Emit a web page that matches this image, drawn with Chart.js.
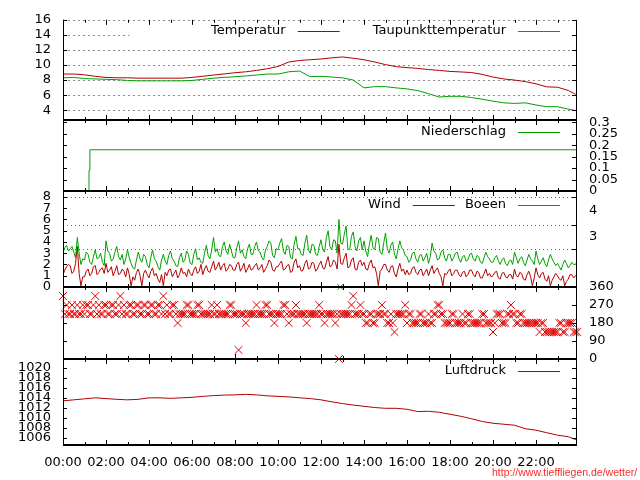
<!DOCTYPE html>
<html><head><meta charset="utf-8">
<script src="https://cdn.jsdelivr.net/npm/chart.js@4"></script>
<style>
html,body{margin:0;padding:0;background:#fff;}
#wrap{position:relative;width:640px;height:480px;overflow:hidden;background:#fff;}
#wrap canvas{position:absolute;left:0;top:0;}
#url{position:absolute;left:492px;top:465px;font:10.5px "Liberation Sans",Arial,sans-serif;color:#ff2a2a;line-height:14px;white-space:nowrap;}
</style></head><body>
<div id="wrap">
<canvas id="c1" width="640" height="480"></canvas>
<canvas id="c2" width="640" height="480"></canvas>
<canvas id="c3" width="640" height="480"></canvas>
<canvas id="c4" width="640" height="480"></canvas>
<canvas id="c5" width="640" height="480"></canvas>
<div id="url">http://www.tieffliegen.de/wetter/</div>
</div>
<script>
// ---------- data ----------
const hourLabelTicks = [0,2,4,6,8,10,12,14,16,18,20,22];
const hourMarks = [0,1,2,3,4,5,6,7,8,9,10,11,12,13,14,15,16,17,18,19,20,21,22,23];
const xMax = 23.86;

const slowHours = [0,0.5,1,1.5,2,2.5,3,3.5,4,4.5,5,5.5,6,6.5,7,7.5,8,8.5,9,9.5,10,10.5,11,11.5,
  12,12.5,13,13.5,14,14.5,15,15.5,16,16.5,17,17.5,18,18.5,19,19.5,20,20.5,21,21.5,22,22.5,23,23.5,23.85];
const tempValues = [8.8,8.8,8.7,8.5,8.35,8.3,8.3,8.25,8.25,8.25,8.25,8.25,
  8.35,8.5,8.67,8.82,8.97,9.1,9.28,9.5,9.8,10.4,10.6,10.7,
  10.8,10.95,11.07,10.9,10.7,10.4,10.05,9.78,9.65,9.55,9.4,9.28,
  9.15,9.08,9.0,8.75,8.4,8.15,8.0,7.8,7.5,7.1,7.05,6.62,6.1];
const dewValues = [8.3,8.35,8.2,8.15,8.1,8.05,7.95,7.9,7.9,7.9,7.9,7.9,
  7.95,8.1,8.25,8.35,8.45,8.55,8.67,8.8,8.8,9.1,9.2,8.45,
  8.5,8.4,8.3,8.0,6.96,7.13,7.13,6.96,6.83,6.6,6.2,5.75,
  5.85,5.85,5.68,5.46,5.2,4.98,4.9,4.98,4.69,4.47,4.47,4.14,3.96];
const pressValues = [1013.4,1013.6,1013.8,1014.0,1013.85,1013.7,1013.6,1013.7,1014.0,1014.0,1013.9,1014.0,
  1014.1,1014.3,1014.45,1014.55,1014.6,1014.7,1014.6,1014.4,1014.3,1014.2,1014.0,1013.85,
  1013.6,1013.2,1012.85,1012.55,1012.3,1012.05,1011.9,1011.9,1011.7,1011.25,1011.3,1011.1,
  1010.7,1010.3,1009.8,1009.25,1008.9,1008.7,1008.5,1007.8,1007.5,1007.0,1006.5,1006.2,1005.6];

const precipHours = [0,1.21,1.25,23.86];
const precipValues = [0,0.09,0.18,0.18];

// 5-minute samples, one row per hour
const windStepMin = 5;
const windValues = [
  1.1,1.5,1.8,2.0,1.9,1.2,1.4,2.1,3.6,1.2,0.1,0.9,
  0.9,1.4,1.6,1.0,1.2,1.8,1.9,1.1,1.3,1.6,1.7,1.2,
  2.1,1.3,1.5,1.8,1.0,1.4,1.9,1.1,1.2,1.6,1.4,0.9,
  1.7,1.1,0.1,0.9,0.6,1.3,1.6,1.0,0.1,1.2,1.5,1.1,
  0.8,1.4,1.7,1.0,1.2,0.7,0.4,1.1,0.1,1.3,1.0,1.5,
  1.6,0.9,1.2,1.5,0.8,1.1,1.7,1.2,1.3,0.9,1.6,1.2,
  1.0,1.5,1.8,1.2,1.4,2.0,1.1,1.6,1.9,1.4,1.3,1.8,
  2.3,1.5,1.8,2.2,1.5,1.9,2.1,1.4,1.6,2.0,1.9,1.5,
  1.5,2.0,2.2,1.4,1.7,2.1,1.3,1.6,2.0,1.5,1.6,1.9,
  2.1,1.5,1.7,2.0,1.3,1.6,1.9,2.4,2.2,1.5,1.4,1.8,
  1.8,2.1,2.3,1.5,1.6,1.9,2.0,1.3,1.4,2.2,2.5,1.7,
  1.9,1.4,1.5,2.1,2.4,1.6,1.7,2.2,2.1,1.4,1.6,2.0,
  2.3,1.7,1.6,2.2,2.7,1.8,1.9,2.4,2.2,1.6,3.8,2.1,
  2.0,2.6,3.0,1.7,1.8,2.4,2.6,1.6,1.5,2.2,2.4,1.9,
  2.2,1.6,1.5,2.1,2.4,1.7,1.8,1.2,0.1,1.4,1.6,2.0,
  2.0,1.5,1.3,1.8,1.9,1.2,0.9,1.6,2.1,1.4,1.6,1.1,
  1.5,1.1,1.2,1.7,1.8,1.3,1.1,1.5,1.6,1.0,1.3,1.6,
  1.0,1.5,1.9,1.2,1.5,1.7,1.2,0.9,0.1,1.2,1.1,1.4,
  1.6,1.0,1.2,1.5,1.5,1.1,0.9,1.3,1.4,0.9,1.1,1.5,
  1.5,1.1,0.9,1.4,1.3,0.8,0.8,1.2,1.6,1.0,1.2,0.9,
  1.0,1.3,1.4,0.8,0.7,1.2,1.3,0.9,0.8,1.1,1.1,0.7,
  1.6,1.0,0.9,1.3,1.2,0.7,0.6,1.1,1.4,0.9,0.1,0.8,
  1.7,1.1,0.8,1.2,1.3,0.7,0.5,1.0,0.1,0.6,0.9,1.2,
  1.0,0.7,0.6,1.0,0.1,0.5,0.7,1.1,1.1,0.8,1.0,1.1];
const gustValues = [
  3.0,3.5,3.7,3.2,3.4,3.6,3.1,2.6,4.4,3.0,2.0,2.5,
  2.4,3.1,2.9,2.2,2.0,2.7,3.3,2.5,2.6,3.0,2.2,1.9,
  4.1,3.2,3.0,2.3,2.5,3.1,3.6,2.7,2.4,2.9,2.0,2.5,
  3.3,2.6,2.1,1.7,1.6,2.4,3.1,2.5,2.2,2.9,2.7,2.0,
  1.7,2.6,3.3,2.5,2.3,1.8,1.5,2.4,2.9,2.3,2.0,2.8,
  3.2,2.5,2.3,1.9,1.8,2.6,3.0,2.2,2.4,3.2,2.9,2.1,
  2.0,2.9,3.4,2.4,2.6,2.2,2.1,3.0,3.7,2.8,2.5,3.3,
  4.4,3.1,3.4,2.8,2.7,3.6,4.0,3.2,2.9,3.8,3.2,2.6,
  2.6,3.5,4.1,3.0,3.3,2.7,2.5,3.4,3.8,2.9,2.9,3.6,
  4.0,3.2,3.1,2.6,2.4,3.3,3.6,4.1,3.9,2.8,2.6,3.4,
  3.3,3.9,4.3,3.2,2.9,3.7,3.6,2.6,2.5,3.8,4.5,3.4,
  3.4,2.9,2.8,3.9,4.6,3.3,3.0,3.8,3.7,2.9,2.8,3.6,
  4.2,3.3,3.1,4.4,5.0,3.6,3.3,4.2,4.1,3.0,6.0,3.9,
  3.8,4.7,5.4,3.4,3.3,4.5,4.9,3.6,3.2,4.1,4.4,3.3,
  4.1,3.2,2.7,3.8,4.6,3.5,3.3,4.4,4.3,3.1,2.9,3.9,
  4.8,3.4,3.0,3.7,4.0,2.9,2.5,3.4,4.1,3.5,3.3,2.8,
  2.7,2.2,2.4,3.0,3.1,2.5,2.2,2.8,2.9,2.3,2.6,3.0,
  2.1,2.7,3.9,3.2,3.0,2.4,2.5,3.1,3.3,2.6,2.3,2.9,
  2.9,2.3,2.6,3.0,3.1,2.5,2.2,2.7,2.8,2.3,2.4,2.9,
  3.0,2.5,2.3,2.8,2.7,2.2,2.1,2.6,3.1,2.7,2.5,2.2,
  2.2,2.6,2.8,2.3,2.0,2.4,2.6,2.1,1.9,2.3,2.4,2.0,
  3.1,2.6,2.1,2.5,2.7,2.2,1.9,2.4,2.9,2.5,2.3,2.0,
  3.2,2.5,2.0,2.3,2.6,2.1,1.8,2.4,2.9,2.5,2.2,1.9,
  2.1,1.8,1.5,2.0,2.4,2.1,1.7,1.9,2.2,2.0,2.0,2.3];
const dirValues = [
  315,225,270,225,225,270,225,225,270,225,225,270,
  225,270,270,225,225,270,315,225,270,225,225,270,
  270,225,225,270,270,225,225,270,315,225,270,225,
  225,270,270,225,225,270,270,225,225,270,270,225,
  225,270,270,225,225,270,270,225,315,225,270,225,
  225,270,270,225,180,225,225,225,225,270,270,225,
  225,225,225,270,270,225,225,225,225,225,225,270,
  225,225,270,225,225,225,225,225,225,270,270,225,
  225,225,45,225,225,225,180,225,225,225,225,225,
  270,225,225,225,225,270,270,225,225,225,180,225,
  225,225,225,270,270,225,180,225,225,225,270,225,
  225,225,225,225,180,225,225,225,225,225,225,270,
  225,225,180,225,225,225,225,225,180,225,0,225,
  225,225,225,225,225,270,315,225,225,225,270,225,
  225,180,180,225,225,180,180,225,225,225,270,225,
  225,180,180,225,180,135,225,225,225,225,225,270,
  180,225,225,180,180,180,180,225,225,180,180,180,
  225,180,180,225,225,270,270,225,225,180,180,180,
  180,225,225,180,180,180,180,225,180,180,225,225,
  180,180,180,180,180,180,225,225,180,180,180,180,
  135,180,225,225,225,180,180,180,225,225,270,225,
  225,180,180,225,225,180,180,180,180,180,180,180,
  180,180,135,180,180,135,135,135,135,135,135,135,
  135,180,180,135,135,180,180,180,180,135,135,135];
const dirGreenHours = [12.9];
const dirGreenValues = [360];

const tempTicks = [4,6,8,10,12,14,16];
const precipTicks = [0,0.05,0.1,0.15,0.2,0.25,0.3];
const windTicks = [0,1,2,3,4,5,6,7,8];
const bftBounds = [3.4,5.5,8.0];
const bftLabelPos = [4.45,6.75];
const bftLabelText = ['3','4'];
const dirTicks = [0,90,180,270,360];
const pressTicks = [1006,1008,1010,1012,1014,1016,1018,1020];

// ---------- helpers ----------
const RED = '#b00000', GREEN = '#00a000', XRED = '#dd0000';
Chart.defaults.font.family = "'DejaVu Sans', sans-serif";
Chart.defaults.font.size = 13;
Chart.defaults.color = '#000';

const windHours = windValues.map((_, i) => i * windStepMin / 60);
function pts(xs, ys) { return ys.map((v, i) => ({x: xs[i], y: v})); }

const gnu = {
  id: 'gnu',
  beforeDatasetsDraw(chart, args, o) {
    const ctx = chart.ctx, a = chart.chartArea;
    (o.grids || []).forEach(g => {
      const s = chart.scales[g.axis];
      ctx.save(); ctx.strokeStyle = g.color; ctx.lineWidth = 1; ctx.setLineDash(g.dash);
      g.values.forEach(v => {
        const y = Math.round(s.getPixelForValue(v)) + 0.5;
        ctx.beginPath(); ctx.moveTo(a.left, y); ctx.lineTo(a.right, y); ctx.stroke();
      });
      ctx.restore();
    });
  },
  afterDatasetsDraw(chart, args, o) {
    const ctx = chart.ctx, a = chart.chartArea;
    ctx.save();
    if (o.key && o.key.length) {
      const ds = chart.data.datasets;
      const entries = o.key.map(l => ds.find(d => d.label === l));
      const maxChars = Math.max(...o.key.map(l => l.length));
      const W = 61 + 8.85 * maxChars;
      const yc = Math.round(a.top + o.keyDy);
      const endR = a.right - 16;
      const left = endR + 10 - entries.length * W;
      ctx.fillStyle = '#fff'; ctx.fillRect(left, yc - 7, a.right - 6 - left, 14);
      ctx.font = "13px 'DejaVu Sans'"; ctx.textAlign = 'right'; ctx.textBaseline = 'middle';
      entries.forEach((d, i) => {
        const sEnd = endR - (entries.length - 1 - i) * W;
        const sStart = sEnd - 42;
        ctx.fillStyle = '#000'; ctx.fillText(d.label, sStart - 12, yc);
        ctx.strokeStyle = d.borderColor; ctx.lineWidth = 1; ctx.setLineDash([]);
        ctx.beginPath(); ctx.moveTo(sStart, yc + 0.5); ctx.lineTo(sEnd, yc + 0.5); ctx.stroke();
      });
    }
    ctx.strokeStyle = '#000'; ctx.setLineDash([]);
    ctx.lineWidth = 1;
    ctx.beginPath();
    ctx.moveTo(a.left + 0.5, a.top); ctx.lineTo(a.left + 0.5, a.bottom);
    ctx.moveTo(a.right + 0.5, a.top); ctx.lineTo(a.right + 0.5, a.bottom);
    ctx.stroke();
    ctx.lineWidth = 2;
    ctx.beginPath();
    if (!o.noTop) { ctx.moveTo(a.left, a.top); ctx.lineTo(a.right + 1, a.top); }
    ctx.moveTo(a.left, a.bottom); ctx.lineTo(a.right + 1, a.bottom);
    ctx.stroke();
    ctx.lineWidth = 1;
    ctx.beginPath();
    const xs = chart.scales.x;
    hourMarks.forEach(h => {
      const x = Math.round(xs.getPixelForValue(h)) + 0.5;
      const len = hourLabelTicks.includes(h) ? 5 : 3;
      ctx.moveTo(x, a.top); ctx.lineTo(x, a.top + len);
      ctx.moveTo(x, a.bottom); ctx.lineTo(x, a.bottom - len);
    });
    (o.yTicks || []).forEach(t => {
      const s = chart.scales[t.axis];
      t.values.forEach(v => {
        const y = Math.round(s.getPixelForValue(v)) + 0.5;
        if (t.left) { ctx.moveTo(a.left, y); ctx.lineTo(a.left + 4, y); }
        if (t.right) { ctx.moveTo(a.right, y); ctx.lineTo(a.right - 4, y); }
      });
    });
    ctx.stroke();
    ctx.restore();
  }
};

function xAxis(show) {
  return {
    type: 'linear', min: 0, max: xMax, display: show,
    afterBuildTicks: s => { s.ticks = hourLabelTicks.map(v => ({value: v})); },
    afterFit: s => { s.height = show ? 35 : 0; },
    grid: {display: false, drawTicks: false}, border: {display: false},
    ticks: {autoSkip: false, maxRotation: 0, minRotation: 0, padding: 10,
      callback: v => String(v).padStart(2, '0') + ':00'}
  };
}
function yAxis(pos, min, max, ticks, show, labels) {
  return {
    type: 'linear', position: pos, min: min, max: max, display: true,
    afterBuildTicks: s => { s.ticks = ticks.map(v => ({value: v})); },
    afterFit: s => { s.width = pos === 'left' ? 63 : 64; },
    grid: {display: false, drawTicks: false}, border: {display: false},
    ticks: {display: show, autoSkip: false, padding: pos === 'left' ? 12 : 13,
      callback: (v, i) => labels ? labels[i] : String(v)}
  };
}
function lineDs(label, xs, ys, color, extra) {
  return Object.assign({label: label, data: pts(xs, ys), borderColor: color, backgroundColor: color,
    borderWidth: 1, pointRadius: 0, tension: 0, fill: false}, extra || {});
}
function makeChart(id, top, bottom, showX, datasets, scales, gnuOpts) {
  return new Chart(document.getElementById(id), {
    type: 'line',
    data: {datasets: datasets},
    options: {
      responsive: false, animation: false, events: [],
      layout: {padding: {top: top, bottom: 480 - bottom - (showX ? 35 : 0), left: 0, right: 0}},
      scales: Object.assign({x: xAxis(showX)}, scales),
      plugins: {legend: {display: false}, tooltip: {enabled: false}, gnu: gnuOpts}
    },
    plugins: [gnu]
  });
}

// ---------- panels ----------
makeChart('c1', 17, 120, false,
  [lineDs('Taupunkttemperatur', slowHours, dewValues, GREEN),
   lineDs('Temperatur', slowHours, tempValues, RED)],
  {y: yAxis('left', 2.7, 16, tempTicks, true), y2: yAxis('right', 2.7, 16, tempTicks, false)},
  {noTop: true, key: ['Temperatur', 'Taupunkttemperatur'], keyDy: 11,
   grids: [{axis: 'y', values: tempTicks, dash: [2, 3], color: '#8c8c8c'}],
   yTicks: [{axis: 'y', values: tempTicks, left: true, right: true}]});

makeChart('c2', 120, 191, false,
  [lineDs('Niederschlag', precipHours, precipValues, GREEN, {stepped: 'before'})],
  {y: yAxis('left', 0, 0.31, precipTicks, false), y2: yAxis('right', 0, 0.31, precipTicks, true)},
  {key: ['Niederschlag'], keyDy: 12,
   yTicks: [{axis: 'y', values: precipTicks, left: true, right: true}]});

makeChart('c3', 191, 287, false,
  [lineDs('Boeen', windHours, gustValues, GREEN),
   lineDs('Wind', windHours, windValues, RED)],
  {y: yAxis('left', 0, 8.53, windTicks, true), y2: yAxis('right', 0, 8.53, bftLabelPos, true, bftLabelText)},
  {key: ['Wind', 'Boeen'], keyDy: 14,
   grids: [{axis: 'y', values: bftBounds, dash: [1, 3], color: '#6a6a6a'}],
   yTicks: [{axis: 'y', values: windTicks, left: true}, {axis: 'y', values: bftBounds, right: true}]});

makeChart('c4', 287, 359, false,
  [{label: 'Windrichtung', data: pts(windHours, dirValues), showLine: false, pointStyle: 'crossRot',
    pointRadius: 5.5, pointBorderWidth: 1, pointBorderColor: XRED, borderColor: XRED, clip: false},
   {label: 'Windrichtung Boeen', data: pts(dirGreenHours, dirGreenValues), showLine: false, pointStyle: 'crossRot',
    pointRadius: 4, pointBorderWidth: 1, pointBorderColor: GREEN, borderColor: GREEN, clip: false}],
  {y: yAxis('left', 0, 360, dirTicks, false), y2: yAxis('right', 0, 360, dirTicks, true)},
  {yTicks: [{axis: 'y', values: dirTicks, left: true, right: true}]});

makeChart('c5', 359, 445, true,
  [lineDs('Luftdruck', slowHours, pressValues, RED)],
  {y: yAxis('left', 1004.53, 1021.8, pressTicks, true), y2: yAxis('right', 1004.53, 1021.8, pressTicks, false)},
  {key: ['Luftdruck'], keyDy: 12,
   yTicks: [{axis: 'y', values: pressTicks, left: true, right: true}]});
</script>
</body></html>
